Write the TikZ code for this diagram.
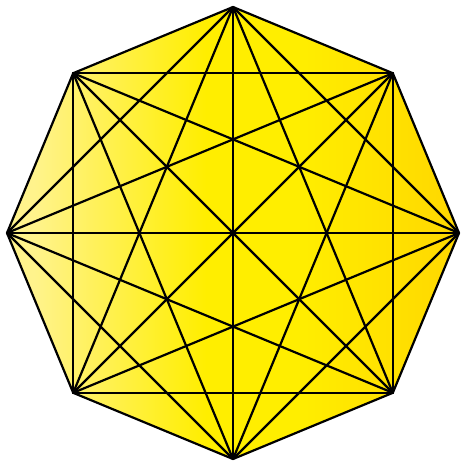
\documentclass[tikz,border=0pt]{standalone}
\usepackage{tikz}
\usetikzlibrary{calc}
\definecolor{goldright}{RGB}{255,214,0}
\definecolor{paleleft}{RGB}{255,243,140}
\definecolor{midyellow}{RGB}{255,238,0}
\pgfdeclarehorizontalshading{octfill}{100bp}{
    color(0bp)=(paleleft); color(28bp)=(paleleft);
    color(47bp)=(midyellow); color(57bp)=(midyellow);
    color(76bp)=(goldright); color(100bp)=(goldright)}

\begin{document}
\begin{tikzpicture}[
        x=1pt, y=-1pt,
        edge/.style={line width=2.2pt, line join=round, line cap=round, color=black}
    ]
    \useasboundingbox (0,0) rectangle (474,474);

    % corners of the octagon (y axis is flipped)
    \foreach \i in {0,...,7} {
        \coordinate (v\i) at ($(233,233)+({-90+45*\i}:226)$);
    }

    \shade[shading=octfill]
        (v0) -- (v1) -- (v2) -- (v3) -- (v4) -- (v5) -- (v6) -- (v7) -- cycle;

    % every pair of corners
    \foreach \i in {0,...,6} {
        \pgfmathtruncatemacro{\nxt}{\i+1}
        \foreach \j in {\nxt,...,7} {
            \draw[edge] (v\i) -- (v\j);
        }
    }
\end{tikzpicture}
\end{document}
